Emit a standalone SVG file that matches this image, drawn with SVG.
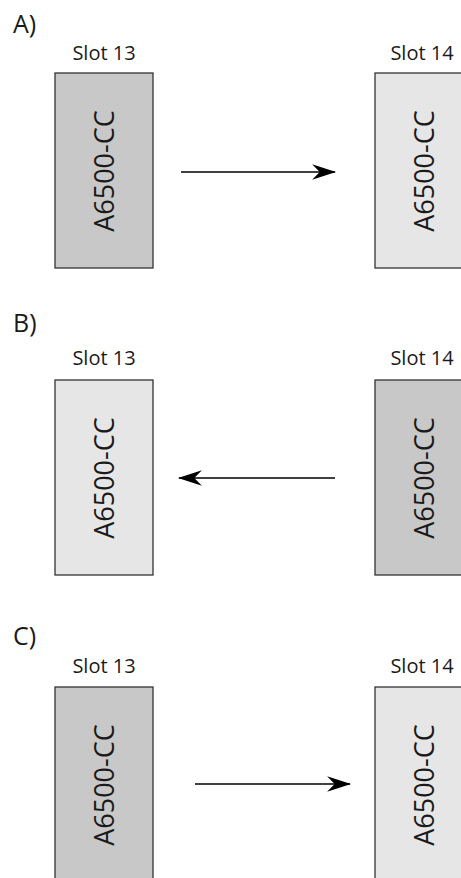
<svg xmlns="http://www.w3.org/2000/svg" width="461" height="878" viewBox="0 0 461 878">
<style>
text{font-family:"Open Sans","Noto Sans",sans-serif;fill:#1a1a1a}
.lbl{font-size:25px}
.slot{font-size:20px;text-anchor:middle}
.card{font-size:27px;text-anchor:middle;dominant-baseline:central}
.dark{fill:#c8c8c8;stroke:#333;stroke-width:1.3}
.light{fill:#e6e6e6;stroke:#333;stroke-width:1.3}
.conn{stroke:#000;stroke-width:1.5;fill:none;marker-end:url(#ah)}
</style>
<defs>
<marker id="ah" markerUnits="userSpaceOnUse" markerWidth="24" markerHeight="16" viewBox="0 0 22 14" refX="21" refY="7" orient="auto">
<path d="M0,0 L22,7 L0,14 L7,7 Z" fill="#000"/>
</marker>
</defs>
<text class="lbl" x="13" y="33">A)</text>
<text class="lbl" x="13" y="332">B)</text>
<text class="lbl" x="13" y="645">C)</text>
<g id="a-slot13">
<text class="slot" x="104" y="60">Slot 13</text>
<rect class="dark" x="55" y="73" width="98" height="195"/>
<text class="card" transform="translate(103,171) rotate(-90)">A6500-CC</text>
</g>
<g id="a-slot14">
<text class="slot" x="422" y="60">Slot 14</text>
<rect class="light" x="375" y="73" width="98" height="195"/>
<text class="card" transform="translate(423,171) rotate(-90)">A6500-CC</text>
</g>
<g id="b-slot13">
<text class="slot" x="104" y="365">Slot 13</text>
<rect class="light" x="55" y="380" width="98" height="195"/>
<text class="card" transform="translate(103,478) rotate(-90)">A6500-CC</text>
</g>
<g id="b-slot14">
<text class="slot" x="422" y="365">Slot 14</text>
<rect class="dark" x="375" y="380" width="98" height="195"/>
<text class="card" transform="translate(423,478) rotate(-90)">A6500-CC</text>
</g>
<g id="c-slot13">
<text class="slot" x="104" y="673">Slot 13</text>
<rect class="dark" x="55" y="687" width="98" height="195"/>
<text class="card" transform="translate(103,785) rotate(-90)">A6500-CC</text>
</g>
<g id="c-slot14">
<text class="slot" x="422" y="673">Slot 14</text>
<rect class="light" x="375" y="687" width="98" height="195"/>
<text class="card" transform="translate(423,785) rotate(-90)">A6500-CC</text>
</g>
<g id="connectors">
<line class="conn" x1="181" y1="172" x2="335" y2="172"/>
<line class="conn" x1="335" y1="478" x2="179" y2="478"/>
<line class="conn" x1="195" y1="784" x2="350" y2="784"/>
</g>
</svg>
